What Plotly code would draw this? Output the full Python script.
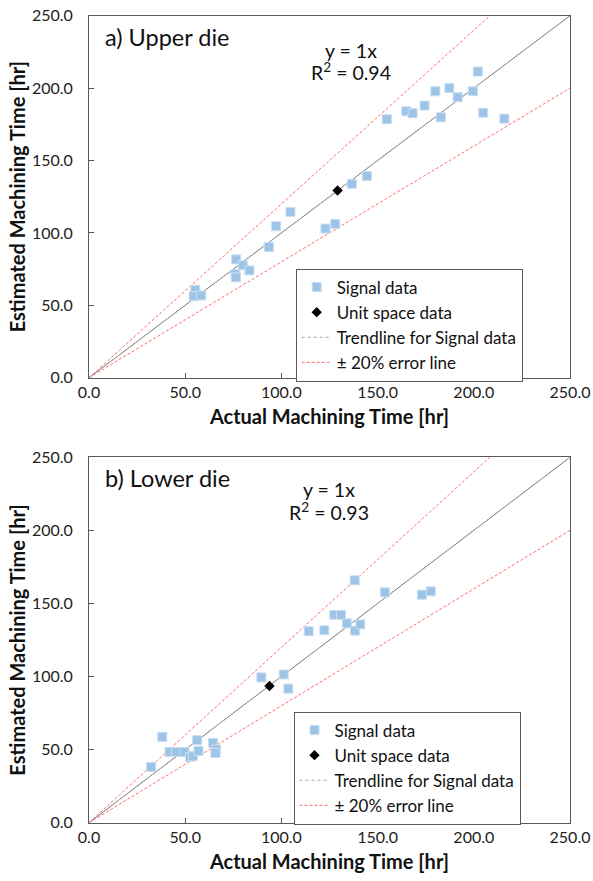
import plotly.graph_objects as go

# ---------------- data ----------------
upper_actual = [55.3, 54.4, 58.3, 76.5, 76.0, 76.4, 79.9, 83.4, 93.5, 97.3, 104.7, 122.9, 128.0,
                136.6, 144.4, 154.8, 164.9, 168.2, 174.4, 180.0, 182.9, 187.3, 191.6, 199.5,
                202.1, 204.9, 215.9]
upper_estimated = [60.7, 56.3, 56.8, 81.7, 71.5, 69.3, 77.6, 74.1, 90.2, 104.6, 114.5, 103.0, 106.2,
                   133.9, 139.2, 178.5, 184.0, 182.6, 187.9, 197.8, 179.8, 200.0, 193.7, 197.8,
                   211.4, 183.0, 178.9]
upper_unit = ([129.2], [129.3])

lower_actual = [32.3, 38.1, 41.9, 45.3, 49.6, 52.5, 54.0, 56.2, 56.9, 64.5, 66.1, 65.7, 89.6,
                101.2, 103.6, 114.2, 122.3, 127.5, 131.0, 134.0, 138.3, 141.0, 138.1, 153.8,
                173.0, 177.6]
lower_estimated = [38.2, 58.7, 48.4, 48.4, 48.4, 45.0, 45.5, 56.4, 49.1, 54.6, 50.1, 47.7, 99.4,
                   101.4, 91.7, 131.0, 131.7, 142.2, 142.2, 136.4, 131.4, 135.7, 165.8, 157.6,
                   156.0, 158.3]
lower_unit = ([93.8], [93.5])

panel_labels = ["a) Upper die", "b) Lower die"]
r2_values = ["0.94", "0.93"]
slope = 1.0
error_ratio = 0.20
line_x = [0, 250]
tick_vals = [0, 50, 100, 150, 200, 250]

FONT = "Lato"
BLUE = "#9DC3E6"
RED = "#FF6B6B"
AX = "#595959"

fig = go.Figure()

panels = [
    dict(ax=("x", "y"), legend="legend", act=upper_actual, est=upper_estimated, unit=upper_unit,
         label=panel_labels[0], r2=r2_values[0], eqx=136.3, eqy1=225.8, eqy2=211.8),
    dict(ax=("x2", "y2"), legend="legend2", act=lower_actual, est=lower_estimated, unit=lower_unit,
         label=panel_labels[1], r2=r2_values[1], eqx=124.9, eqy1=228.1, eqy2=212.8),
]

for p in panels:
    xa, ya = p["ax"]
    lg = p["legend"]
    fig.add_trace(go.Scatter(x=line_x, y=[slope * v for v in line_x], mode="lines",
                             line=dict(color="#7a7a7a", width=1), showlegend=False,
                             hoverinfo="skip", xaxis=xa, yaxis=ya))
    ex = [line_x[0], line_x[1], None, line_x[0], line_x[1]]
    ey = [line_x[0] * (1 + error_ratio), line_x[1] * (1 + error_ratio), None,
          line_x[0] * (1 - error_ratio), line_x[1] * (1 - error_ratio)]
    fig.add_trace(go.Scatter(x=ex, y=ey, mode="lines", name="± 20% error line",
                             line=dict(color=RED, width=1, dash="3px,2px"),
                             xaxis=xa, yaxis=ya, legend=lg, legendrank=4))
    fig.add_trace(go.Scatter(x=line_x, y=[slope * v for v in line_x], mode="lines",
                             name="Trendline for Signal data",
                             line=dict(color="#a6a6a6", width=1, dash="dot"),
                             xaxis=xa, yaxis=ya, legend=lg, legendrank=3))
    fig.add_trace(go.Scatter(x=p["act"], y=p["est"], mode="markers", name="Signal data",
                             marker=dict(symbol="square", size=9, color=BLUE,
                                         line=dict(color="#c9def2", width=1)),
                             xaxis=xa, yaxis=ya, legend=lg, legendrank=1))
    fig.add_trace(go.Scatter(x=p["unit"][0], y=p["unit"][1], mode="markers",
                             name="Unit space data",
                             marker=dict(symbol="diamond", size=8, color="black"),
                             xaxis=xa, yaxis=ya, legend=lg, legendrank=2))
    fig.add_annotation(x=7.5, y=235.5, xref=xa, yref=ya, text=p["label"], showarrow=False,
                       xanchor="left", yanchor="middle",
                       font=dict(family=FONT, size=23.5, color="#111"))
    fig.add_annotation(x=p["eqx"], y=p["eqy1"], xref=xa, yref=ya, text="y = 1x",
                       showarrow=False, xanchor="center", yanchor="middle",
                       font=dict(family=FONT, size=19.5, color="#111"))
    fig.add_annotation(x=p["eqx"], y=p["eqy2"], xref=xa, yref=ya,
                       text=f"R<sup>2</sup> = {p['r2']}", showarrow=False,
                       xanchor="center", yanchor="middle",
                       font=dict(family=FONT, size=19.5, color="#111"))

W, H = 593, 881
axis_common = dict(range=[0, 250], tickvals=tick_vals, tickformat=".1f", ticks="inside",
                   ticklen=5, tickcolor=AX, showline=True, linecolor=AX, linewidth=1,
                   mirror=True, showgrid=False, zeroline=False, automargin=False,
                   tickfont=dict(family=FONT, size=16, color="#222"))
title_font = dict(family=FONT, size=20, weight="bold", color="#111")

xdom = [89 / W, 570 / W]
leg_common = dict(xanchor="left", yanchor="top", bgcolor="white", bordercolor=AX,
                  borderwidth=1, font=dict(family=FONT, size=17, color="#111"),
                  tracegroupgap=0, itemwidth=30)
fig.update_layout(
    width=W, height=H, autosize=False,
    margin=dict(l=0, r=0, t=0, b=0),
    paper_bgcolor="white", plot_bgcolor="white",
    font=dict(family=FONT, size=16, color="#111"),
    xaxis=dict(domain=xdom, anchor="y", ticklabelstandoff=0,
               title=dict(text="Actual Machining Time [hr]", standoff=10, font=title_font),
               **axis_common),
    yaxis=dict(domain=[(H - 377.7) / H, (H - 15.7) / H], anchor="x", ticklabelstandoff=12,
               title=dict(text="Estimated Machining Time [hr]", standoff=0, font=title_font),
               **axis_common),
    xaxis2=dict(domain=xdom, anchor="y2", ticklabelstandoff=0,
                title=dict(text="Actual Machining Time [hr]", standoff=10, font=title_font),
                **axis_common),
    yaxis2=dict(domain=[(H - 822.7) / H, (H - 457.3) / H], anchor="x2", ticklabelstandoff=12,
                title=dict(text="Estimated Machining Time [hr]", standoff=0, font=title_font),
                **axis_common),
    legend=dict(x=295.7 / W, y=1 - 268.5 / H, **leg_common),
    legend2=dict(x=293.5 / W, y=1 - 711.5 / H, **leg_common),
)

fig.write_html("out.html", config={"displayModeBar": False},
               post_script="document.body.style.margin='0';")
